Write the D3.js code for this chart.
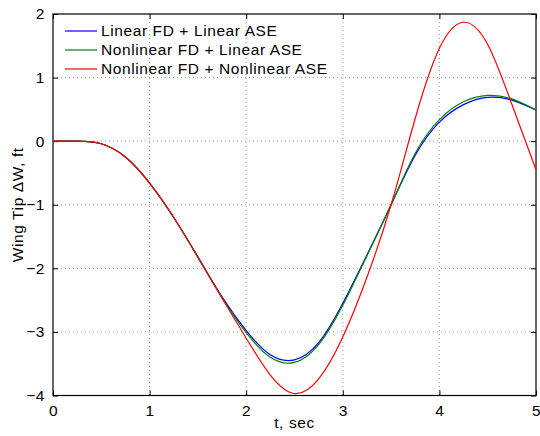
<!DOCTYPE html>
<html>
<head>
<meta charset="utf-8">
<script src="https://d3js.org/d3.v7.min.js"></script>
<style>
body { margin: 0; background: #fff; }
text { font-family: "Liberation Sans", Arial, sans-serif; letter-spacing: 0.6px; }
</style>
</head>
<body>
<svg width="540" height="436"></svg>
<script>
// time samples, sec
var tSec = [0, 0.25, 0.5, 0.75, 1.0, 1.25, 1.5, 1.75, 2.0, 2.25, 2.5, 2.75, 3.0, 3.25, 3.5, 3.75, 4.0, 4.25, 4.5, 4.75, 5.0]
// wing tip deflection, ft
var linLin = [0, 0, -0.04, -0.25, -0.66, -1.2, -1.82, -2.45, -2.98, -3.36, -3.44, -3.17, -2.55, -1.79, -1.0, -0.22, 0.3, 0.575, 0.688, 0.645, 0.49]
var nonLin = [0, 0, -0.04, -0.25, -0.66, -1.2, -1.82, -2.46, -3.01, -3.4, -3.48, -3.2, -2.58, -1.8, -1.0, -0.19, 0.34, 0.62, 0.72, 0.665, 0.49]
var nonNon = [0, 0, -0.04, -0.25, -0.66, -1.2, -1.83, -2.47, -3.1, -3.68, -3.97, -3.74, -3.08, -2.14, -1.0, 0.36, 1.46, 1.87, 1.52, 0.58, -0.45]
var seriesNames = ["Linear FD + Linear ASE", "Nonlinear FD + Linear ASE", "Nonlinear FD + Nonlinear ASE"]
var seriesColors = ["#0000ff", "#008000", "#ff0000"]
var xTicks = [0, 1, 2, 3, 4, 5]
var yTicks = [-4, -3, -2, -1, 0, 1, 2]

var pLeft = 53, pTop = 14, pRight = 536, pBottom = 395.5

var svg = d3.select("svg")

var x = d3.scaleLinear().domain([0, 5]).range([pLeft, pRight])
var y = d3.scaleLinear().domain([-4, 2]).range([pBottom, pTop])

// grid
svg.append("g").selectAll("line").data(xTicks.slice(1, -1)).enter().append("line")
  .attr("x1", function(d) { return x(d) }).attr("x2", function(d) { return x(d) })
  .attr("y1", pTop).attr("y2", pBottom)
  .attr("stroke", "#999").attr("stroke-dasharray", "1,3")
svg.append("g").selectAll("line").data(yTicks.slice(1, -1)).enter().append("line")
  .attr("y1", function(d) { return y(d) }).attr("y2", function(d) { return y(d) })
  .attr("x1", pLeft).attr("x2", pRight)
  .attr("stroke", "#999").attr("stroke-dasharray", "1,3")

// axes, ticks pointing inwards like matlab
var fs = "15.5px"
var fmt = d3.format("d")
svg.append("g").attr("transform", "translate(0," + pBottom + ")")
  .call(d3.axisBottom(x).tickValues(xTicks).tickFormat(fmt).tickSize(-5).tickPadding(9))
  .call(function(g) { g.select(".domain").remove(); g.selectAll("text").style("font-size", fs).attr("fill", "#000") })
svg.append("g").attr("transform", "translate(0," + pTop + ")")
  .call(d3.axisTop(x).tickValues(xTicks).tickSize(-5).tickFormat(""))
  .call(function(g) { g.select(".domain").remove() })
svg.append("g").attr("transform", "translate(" + pLeft + ",0)")
  .call(d3.axisLeft(y).tickValues(yTicks).tickFormat(fmt).tickSize(-5).tickPadding(8))
  .call(function(g) { g.select(".domain").remove(); g.selectAll("text").style("font-size", fs).attr("fill", "#000") })
svg.append("g").attr("transform", "translate(" + pRight + ",0)")
  .call(d3.axisRight(y).tickValues(yTicks).tickSize(-5).tickFormat(""))
  .call(function(g) { g.select(".domain").remove() })

svg.append("rect").attr("x", pLeft).attr("y", pTop)
  .attr("width", pRight - pLeft).attr("height", pBottom - pTop)
  .attr("fill", "none").attr("stroke", "#000").attr("stroke-width", 1.2)

// curves
var allSeries = [linLin, nonLin, nonNon]
var line = d3.line()
  .x(function(d, i) { return x(tSec[i]) })
  .y(function(d) { return y(d) })
  .curve(d3.curveNatural)

svg.append("g").selectAll("path").data(allSeries).enter().append("path")
  .attr("d", line)
  .attr("fill", "none")
  .attr("stroke", function(d, i) { return seriesColors[i] })
  .attr("stroke-width", 1.2)

// legend
var leg = svg.append("g")
seriesNames.forEach(function(name, i) {
  var yy = 31 + i * 19
  leg.append("line").attr("x1", 65).attr("x2", 97).attr("y1", yy).attr("y2", yy)
    .attr("stroke", seriesColors[i]).attr("stroke-width", 1.2)
  leg.append("text").attr("x", 101).attr("y", yy).attr("dy", "0.35em")
    .style("font-size", fs).text(name)
})

// labels
svg.append("text").attr("x", (pLeft + pRight) / 2).attr("y", 428)
  .attr("text-anchor", "middle").style("font-size", fs).text("t, sec")
svg.append("text").attr("transform", "translate(23," + ((pTop + pBottom) / 2) + ") rotate(-90)")
  .attr("text-anchor", "middle").style("font-size", fs).text("Wing Tip \u0394W, ft")
</script>
</body>
</html>
